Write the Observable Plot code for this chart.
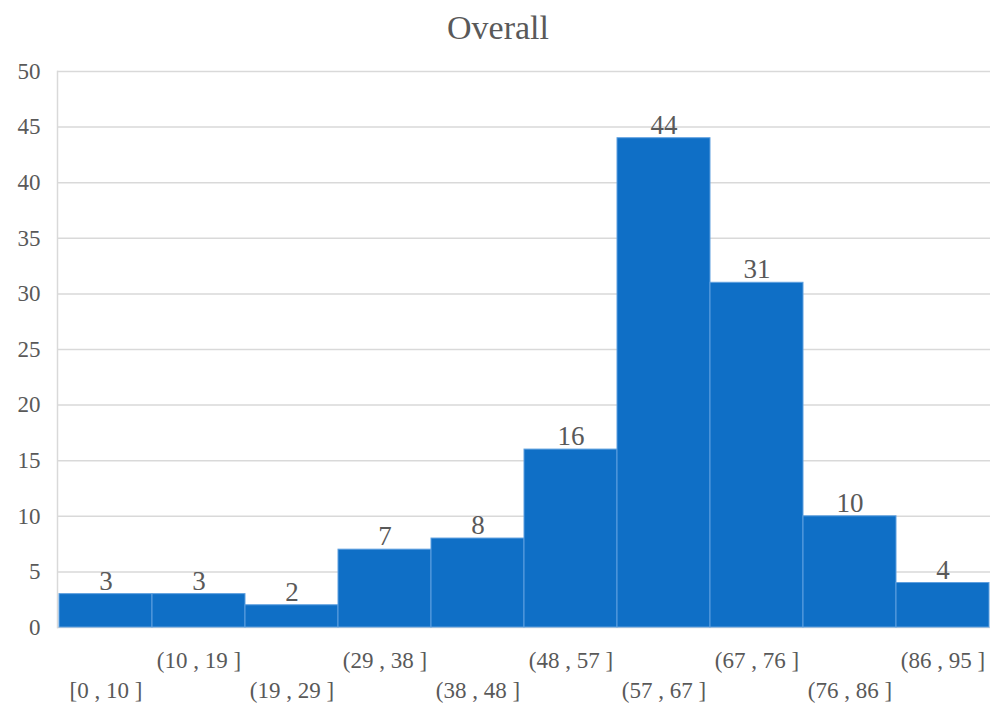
<!DOCTYPE html>
<html>
<head>
<meta charset="utf-8">
<script src="https://cdn.jsdelivr.net/npm/d3@7"></script>
<script src="https://cdn.jsdelivr.net/npm/@observablehq/plot@0.6"></script>
<style>
  html, body { margin: 0; padding: 0; background: #ffffff; }
  #wrap { width: 996px; font-family: "Liberation Serif", "DejaVu Serif", serif; color: #595959; }
  #title { height: 55px; line-height: 55px; text-align: center; font-size: 34px; color: #595959; }
  svg { display: block; font-variant-numeric: oldstyle-nums; }
</style>
</head>
<body>
<div id="wrap">
  <div id="title">Overall</div>
  <div id="chart"></div>
</div>
<script>
// Score bins and how many fall in each
const bins = ["[0 , 10 ]", "(10 , 19 ]", "(19 , 29 ]", "(29 , 38 ]", "(38 , 48 ]",
              "(48 , 57 ]", "(57 , 67 ]", "(67 , 76 ]", "(76 , 86 ]", "(86 , 95 ]"];
const counts = [3, 3, 2, 7, 8, 16, 44, 31, 10, 4];
const yTicks = [0, 5, 10, 15, 20, 25, 30, 35, 40, 45, 50];

const data = bins.map((bin, i) => ({bin, count: counts[i]}));
const upperRow = bins.filter((_, i) => i % 2 === 1);
const lowerRow = bins.filter((_, i) => i % 2 === 0);

const chart = Plot.plot({
  width: 996,
  height: 652,
  marginTop: 16,
  marginBottom: 80,
  marginLeft: 57,
  marginRight: 6,
  style: {fontFamily: "Liberation Serif, DejaVu Serif, serif", fontSize: "23px", color: "#595959", background: "#ffffff"},
  x: {domain: bins, padding: 0},
  y: {domain: [0, 50]},
  marks: [
    Plot.gridY(yTicks, {stroke: "#d9d9d9", strokeOpacity: 1, strokeWidth: 1.5}),
    Plot.frame({anchor: "left", stroke: "#d9d9d9", strokeWidth: 1.5}),
    Plot.barY(data, {x: "bin", y: "count", fill: "#0f6fc6", stroke: "#5fa0df", strokeWidth: 1, inset: 0}),
    Plot.text(data, {x: "bin", y: "count", text: d => String(d.count), dy: -13, fontSize: 27, fill: "#595959"}),
    Plot.axisY(yTicks, {tickSize: 0, tickPadding: 17, fontSize: 23, label: null, fill: "#595959"}),
    Plot.axisX(upperRow, {tickSize: 0, tickPadding: 24, fontSize: 23, label: null, fill: "#595959"}),
    Plot.axisX(lowerRow, {tickSize: 0, tickPadding: 54, fontSize: 23, label: null, fill: "#595959"})
  ]
});
document.getElementById("chart").appendChild(chart);
</script>
</body>
</html>
